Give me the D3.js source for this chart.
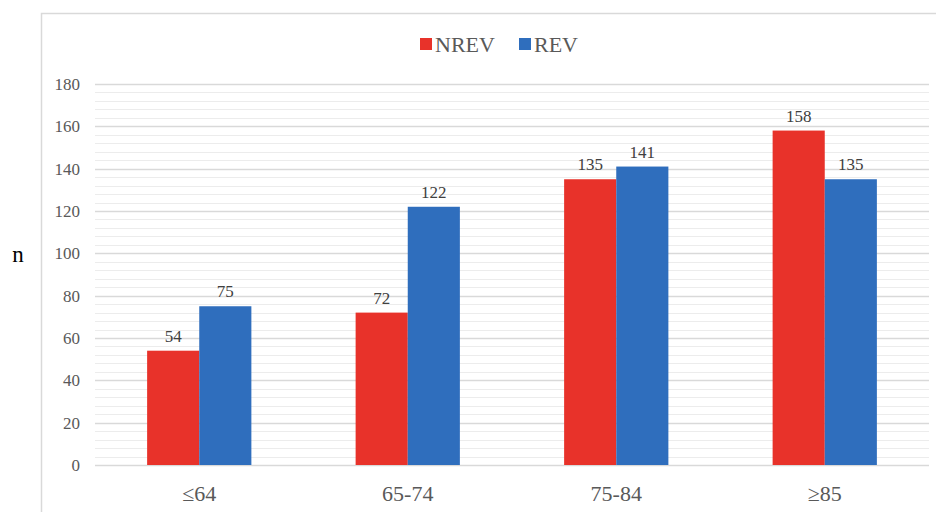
<!DOCTYPE html>
<html>
<head>
<meta charset="utf-8">
<script src="https://cdn.jsdelivr.net/npm/d3@7"></script>
<style>
  body { margin: 0; background: #fff; }
  svg { display: block; font-family: "Liberation Serif", "DejaVu Serif", serif; }
</style>
</head>
<body>
<svg id="chart" width="936" height="512"></svg>
<script>
// Chart data.
const categories = ["≤64", "65-74", "75-84", "≥85"];
const seriesNames = ["NREV", "REV"];
const nrevValues = [54, 72, 135, 158];
const revValues = [75, 122, 141, 135];
const yTicks = [0, 20, 40, 60, 80, 100, 120, 140, 160, 180];

// Display parameters.
let colours = { NREV: "#e8322a", REV: "#2f6ebd" };
let textColour = "#595959";
let majorGrid = "#d9d9d9";
let minorGrid = "#ececec";

let svg = d3.select("#chart");

// Chart frame.
svg.append("rect")
    .attr("x", 41.5)
    .attr("y", 13.5)
    .attr("width", 1000)
    .attr("height", 600)
    .attr("fill", "#fff")
    .attr("stroke", "#d9d9d9")
    .attr("stroke-width", 1.5);

let margin = { left: 95, right: 929, top: 84, bottom: 465 };

let x = d3.scaleBand()
    .domain(categories)
    .range([margin.left, margin.right])
    .padding(0);

let xInner = d3.scaleBand()
    .domain(seriesNames)
    .range([0, x.bandwidth() / 2]);

let y = d3.scaleLinear()
    .domain([0, 180])
    .range([margin.bottom, margin.top]);

// Minor gridlines every 4 units.
let minorTicks = d3.range(0, 181, 4).filter(v => v % 20 !== 0);
svg.append("g")
    .selectAll("line")
    .data(minorTicks)
    .enter()
    .append("line")
    .attr("x1", margin.left)
    .attr("x2", margin.right)
    .attr("y1", d => Math.round(y(d)) + 0.5)
    .attr("y2", d => Math.round(y(d)) + 0.5)
    .attr("stroke", minorGrid)
    .attr("stroke-width", 1);

// Major gridlines.
svg.append("g")
    .selectAll("line")
    .data(yTicks)
    .enter()
    .append("line")
    .attr("x1", margin.left)
    .attr("x2", margin.right)
    .attr("y1", d => Math.round(y(d)) + 0.5)
    .attr("y2", d => Math.round(y(d)) + 0.5)
    .attr("stroke", majorGrid)
    .attr("stroke-width", 1.5);

// Y tick labels.
let yAxis = svg.append("g")
    .attr("transform", `translate(${margin.left - 15},0)`)
    .attr("font-family", null)
    .call(d3.axisLeft(y).tickValues(yTicks).tickSize(0).tickPadding(0));
yAxis.attr("font-family", null).attr("font-size", null);
yAxis.select(".domain").remove();
yAxis.selectAll("text")
    .attr("fill", textColour)
    .style("font-size", "17px")
    .style("font-family", "Liberation Serif, serif");

// Bars.
let rows = categories.map((c, i) => ({ cat: c, NREV: nrevValues[i], REV: revValues[i] }));

let groups = svg.append("g")
    .selectAll("g")
    .data(rows)
    .enter()
    .append("g")
    .attr("transform", d => `translate(${x(d.cat) + x.bandwidth() / 4},0)`);

groups.selectAll("rect")
    .data(d => seriesNames.map(s => ({ key: s, value: d[s] })))
    .enter()
    .append("rect")
    .attr("x", d => xInner(d.key))
    .attr("width", xInner.bandwidth())
    .attr("y", d => y(d.value))
    .attr("height", d => y(0) - y(d.value))
    .attr("fill", d => colours[d.key]);

groups.selectAll("text")
    .data(d => seriesNames.map(s => ({ key: s, value: d[s] })))
    .enter()
    .append("text")
    .attr("x", d => xInner(d.key) + xInner.bandwidth() / 2)
    .attr("y", d => y(d.value) - 9)
    .attr("text-anchor", "middle")
    .attr("fill", "#404040")
    .style("font-size", "17px")
    .text(d => d.value);

// X axis.
let xAxis = svg.append("g")
    .attr("transform", `translate(0,${margin.bottom})`)
    .call(d3.axisBottom(x).tickSize(0).tickPadding(20));
xAxis.attr("font-family", null).attr("font-size", null);
xAxis.select(".domain").remove();
xAxis.selectAll("text")
    .attr("fill", textColour)
    .style("font-size", "22px")
    .style("font-family", "Liberation Serif, serif");

// Y axis title.
svg.append("text")
    .attr("x", 18)
    .attr("y", 262)
    .attr("text-anchor", "middle")
    .attr("fill", "#000")
    .style("font-size", "23px")
    .text("n");

// Legend.
let legendItems = [
    { key: "NREV", x: 420 },
    { key: "REV", x: 519 }
];
let legend = svg.append("g")
    .selectAll("g")
    .data(legendItems)
    .enter()
    .append("g")
    .attr("transform", d => `translate(${d.x},38)`);
legend.append("rect")
    .attr("width", 12)
    .attr("height", 12)
    .attr("fill", d => colours[d.key]);
legend.append("text")
    .attr("x", 15)
    .attr("y", 14)
    .attr("fill", textColour)
    .style("font-size", "22px")
    .text(d => d.key);
</script>
</body>
</html>
